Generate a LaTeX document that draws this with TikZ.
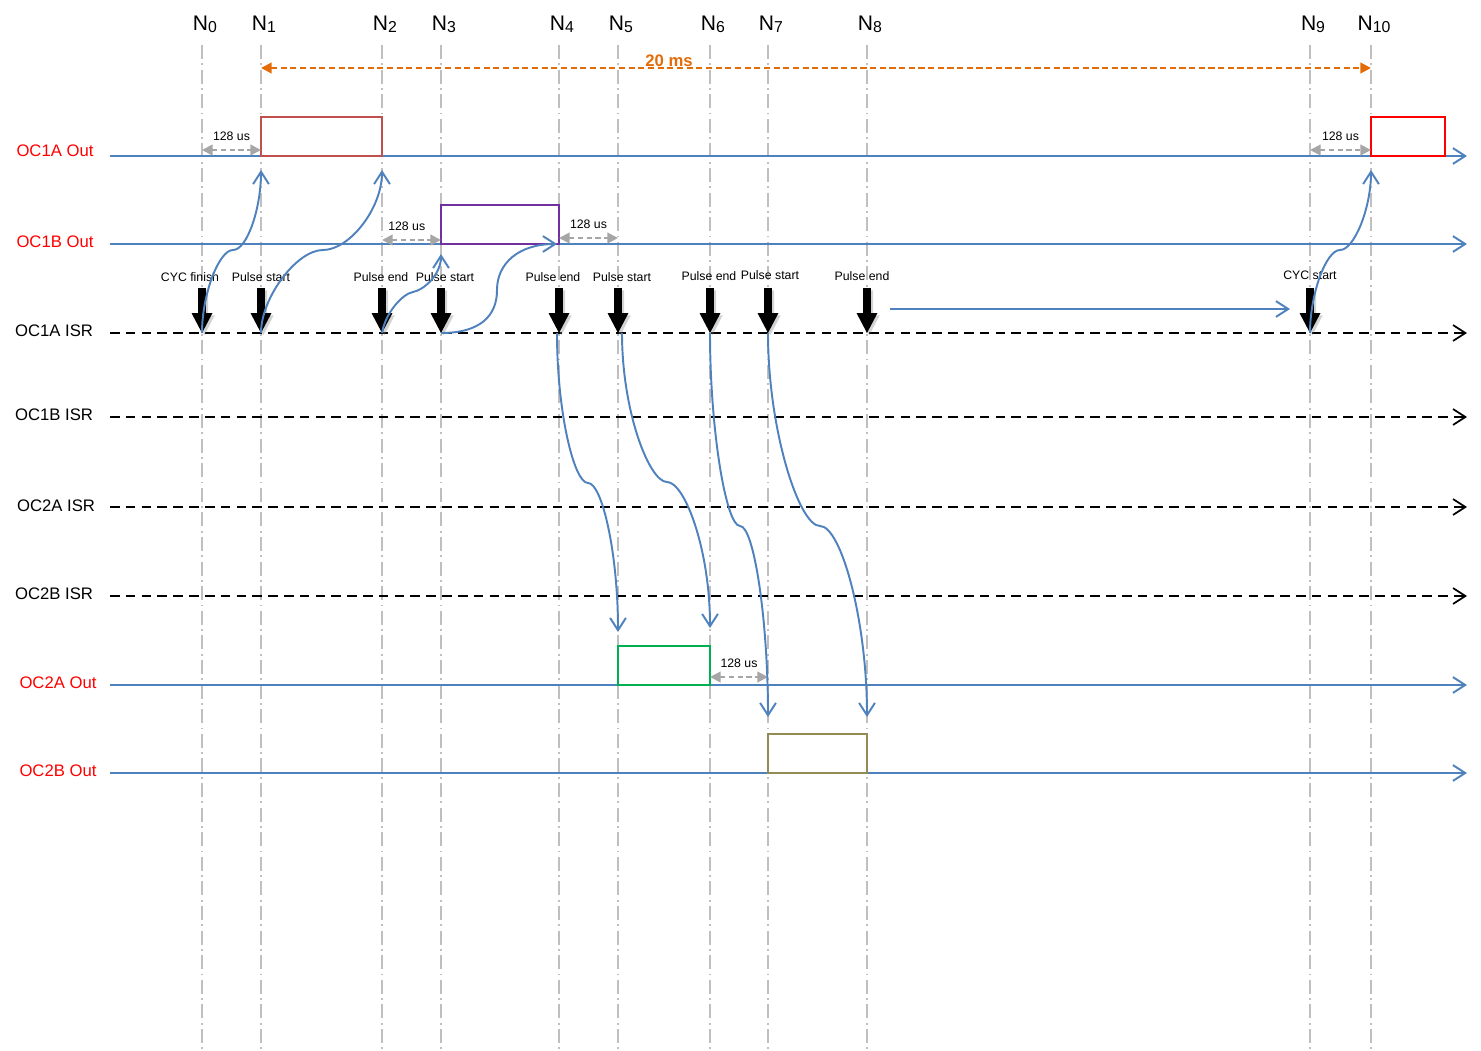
\documentclass[tikz,border=0pt]{standalone}
\usepackage{fontspec}
\setmainfont{Liberation Sans}
\usetikzlibrary{arrows.meta,shadows,calc}

\definecolor{sigblue}{HTML}{4F81BD}
\definecolor{gridgray}{HTML}{BFBFBF}
\definecolor{gapgray}{HTML}{A6A6A6}
\definecolor{spanorange}{HTML}{E36C09}
\definecolor{pulsered}{HTML}{C0504D}
\definecolor{pulsepurple}{HTML}{7030A0}
\definecolor{pulsegreen}{HTML}{00B050}
\definecolor{pulseolive}{HTML}{948A54}

\newcommand{\nsub}[1]{N\raisebox{-1pt}{\fontsize{9}{9}\selectfont #1}}

\begin{document}
\begin{tikzpicture}[
    x=0.02cm, y=-0.02cm,
    guide/.style={draw=gridgray, line width=1.1pt, dash pattern=on 8pt off 2.5pt on 1pt off 2.5pt},
    sigline/.style={draw=sigblue, line width=1.1pt, -{Straight Barb[length=7pt,width=9pt]}},
    isrline/.style={draw=black, line width=1pt, dash pattern=on 5.5pt off 3.5pt, -{Straight Barb[length=7pt,width=9pt]}},
    flow/.style={draw=sigblue, line width=1.1pt, -{Straight Barb[length=7pt,width=9pt]}},
    pulse/.style={line width=1.1pt},
    gap/.style={draw=gapgray, line width=1.2pt, dash pattern=on 3pt off 2pt, {Triangle[length=6pt,width=6pt]}-{Triangle[length=6pt,width=6pt]}},
    span/.style={draw=spanorange, line width=1.2pt, dash pattern=on 3.5pt off 2pt, {Triangle[length=6pt,width=6pt]}-{Triangle[length=6pt,width=6pt]}},
    toplabel/.style={font=\fontsize{12}{14}\selectfont, inner sep=0pt, anchor=base},
    rowlabel/.style={font=\fontsize{9.5}{11}\selectfont},
    evlabel/.style={font=\fontsize{7}{8}\selectfont},
    gaplabel/.style={font=\fontsize{7}{8}\selectfont, above=1.2pt},
    isrhit/.pic={\fill[black, drop shadow={shadow xshift=1.3pt, shadow yshift=-1.3pt, opacity=.35}]
        (-3.8,-45) -- (3.8,-45) -- (3.8,-20) -- (10.5,-20) -- (0,0) -- (-10.5,-20) -- (-3.8,-20) -- cycle;}
]
\useasboundingbox (0,0) rectangle (1481,1051);

% Time marks N0..N10
\foreach \i/\x in {0/202,1/261,2/382,3/441,4/559,5/618,6/710,7/768,8/867,9/1310,10/1371}{
    \coordinate (c\i) at (\x,45);
    \node[toplabel] (n\i) at (\x+3,31) {\nsub{\i}};
    \draw[guide] (c\i) -- (\x,1051);
}

% Output rows
\foreach \name/\y/\lx/\ly/\txt in {oc1a/156/55/151/OC1A Out, oc1b/244/55/242/OC1B Out, oc2a/685/58/683/OC2A Out, oc2b/773/58/771/OC2B Out}{
    \coordinate (\name) at (110,\y);
    \node[rowlabel, text=red] (\name-lbl) at (\lx,\ly) {\txt};
    \draw[sigline] (\name) -- ++(1357,0);
}

% ISR rows
\foreach \name/\y/\lx/\ly/\txt in {isr1a/333/54/331/OC1A ISR, isr1b/417/54/415/OC1B ISR, isr2a/507/56/506/OC2A ISR, isr2b/596/54/594/OC2B ISR}{
    \coordinate (\name) at (110,\y);
    \node[rowlabel] (\name-lbl) at (\lx,\ly) {\txt};
    \draw[isrline] (\name) -- ++(1357,0);
}

% Pulses
\draw[pulse, draw=pulsered] (c1 |- 0,117) rectangle (c2 |- oc1a);
\draw[pulse, draw=pulsepurple] (c3 |- 0,205) rectangle (c4 |- oc1b);
\draw[pulse, draw=pulsegreen] (c5 |- 0,646) rectangle (c6 |- oc2a);
\draw[pulse, draw=pulseolive] (c7 |- 0,734) rectangle (c8 |- oc2b);
\draw[pulse, draw=red, line width=1.6pt] (c10 |- 0,117) rectangle (1445,156);

% Period and gaps
\draw[span] (c1 |- 0,68) -- node[pos=.3676, above=-3.2pt, font=\bfseries\fontsize{9.5}{11}\selectfont, text=spanorange] (period) {20 ms} (c10 |- 0,68);
\draw[gap] (c0 |- 0,150) -- node[gaplabel] (gap1) {128 us} (c1 |- 0,150);
\draw[gap] (c2 |- 0,240) -- node[gaplabel, pos=.42] (gap2) {128 us} (c3 |- 0,240);
\draw[gap] (c4 |- 0,238) -- node[gaplabel] (gap3) {128 us} (c5 |- 0,238);
\draw[gap] (c6 |- 0,677) -- node[gaplabel] (gap4) {128 us} (c7 |- 0,677);
\draw[gap] (c9 |- 0,150) -- node[gaplabel] (gap5) {128 us} (c10 |- 0,150);

% Interrupt events
\foreach \j/\lx/\ly/\txt in {0/190/277/CYC finish, 1/261/277/Pulse start, 2/381/277/Pulse end, 3/445/277/Pulse start, 4/553/277/Pulse end, 5/622/277/Pulse start, 6/709/276/Pulse end, 7/770/275/Pulse start, 8/862/276/Pulse end, 9/1310/275/CYC start}{
    \pic at (c\j |- isr1a) {isrhit};
    \node[evlabel] (ev\j) at (\lx,\ly) {\txt};
}

% Flow of control
\draw[flow] (c0 |- isr1a) to[out=90,in=180,out distance=22pt,in distance=8pt] (233,250)
    to[out=0,in=-90,out distance=8pt,in distance=22pt] ($(c1 |- oc1a)+(0,14)$);
\draw[flow] (c1 |- isr1a) to[out=90,in=180,out distance=20pt,in distance=15pt] (323,250)
    to[out=0,in=-90,out distance=15pt,in distance=22pt] ($(c2 |- oc1a)+(0,14)$);
\draw[flow] (c2 |- isr1a) to[out=80,in=190,out distance=12pt,in distance=6pt] (413,292)
    to[out=10,in=-90,out distance=6pt,in distance=12pt] ($(c3 |- oc1b)+(0,10)$);
\draw[flow] (c3 |- isr1a) to[out=0,in=-90,out distance=22pt,in distance=15pt] (497,290)
    to[out=90,in=180,out distance=15pt,in distance=22pt] ($(c4 |- oc1b)+(-2,0)$);
\draw[flow] ($(c4 |- isr1a)+(-2,0)$) to[out=-90,in=180,out distance=45pt,in distance=8pt] (588,483)
    to[out=0,in=90,out distance=8pt,in distance=45pt] ($(c5 |- oc2a)+(0,-53)$);
\draw[flow] ($(c5 |- isr1a)+(4,0)$) to[out=-90,in=180,out distance=45pt,in distance=10pt] (667,482)
    to[out=0,in=90,out distance=10pt,in distance=45pt] ($(c6 |- oc2a)+(0,-57)$);
\draw[flow] (c6 |- isr1a) to[out=-90,in=180,out distance=55pt,in distance=8pt] (740,526)
    to[out=0,in=90,out distance=8pt,in distance=55pt] ($(c7 |- oc2b)+(0,-56)$);
\draw[flow] (c7 |- isr1a) to[out=-90,in=180,out distance=55pt,in distance=12pt] (820,526)
    to[out=0,in=90,out distance=12pt,in distance=55pt] ($(c8 |- oc2b)+(0,-56)$);
\draw[flow] (c9 |- isr1a) to[out=90,in=180,out distance=22pt,in distance=8pt] (1340,250)
    to[out=0,in=-90,out distance=8pt,in distance=22pt] ($(c10 |- oc1a)+(0,14)$);
\draw[flow] ($(c8 |- 0,309)+(23,0)$) -- ($(c9 |- 0,309)+(-20,0)$);

\end{tikzpicture}
\end{document}
